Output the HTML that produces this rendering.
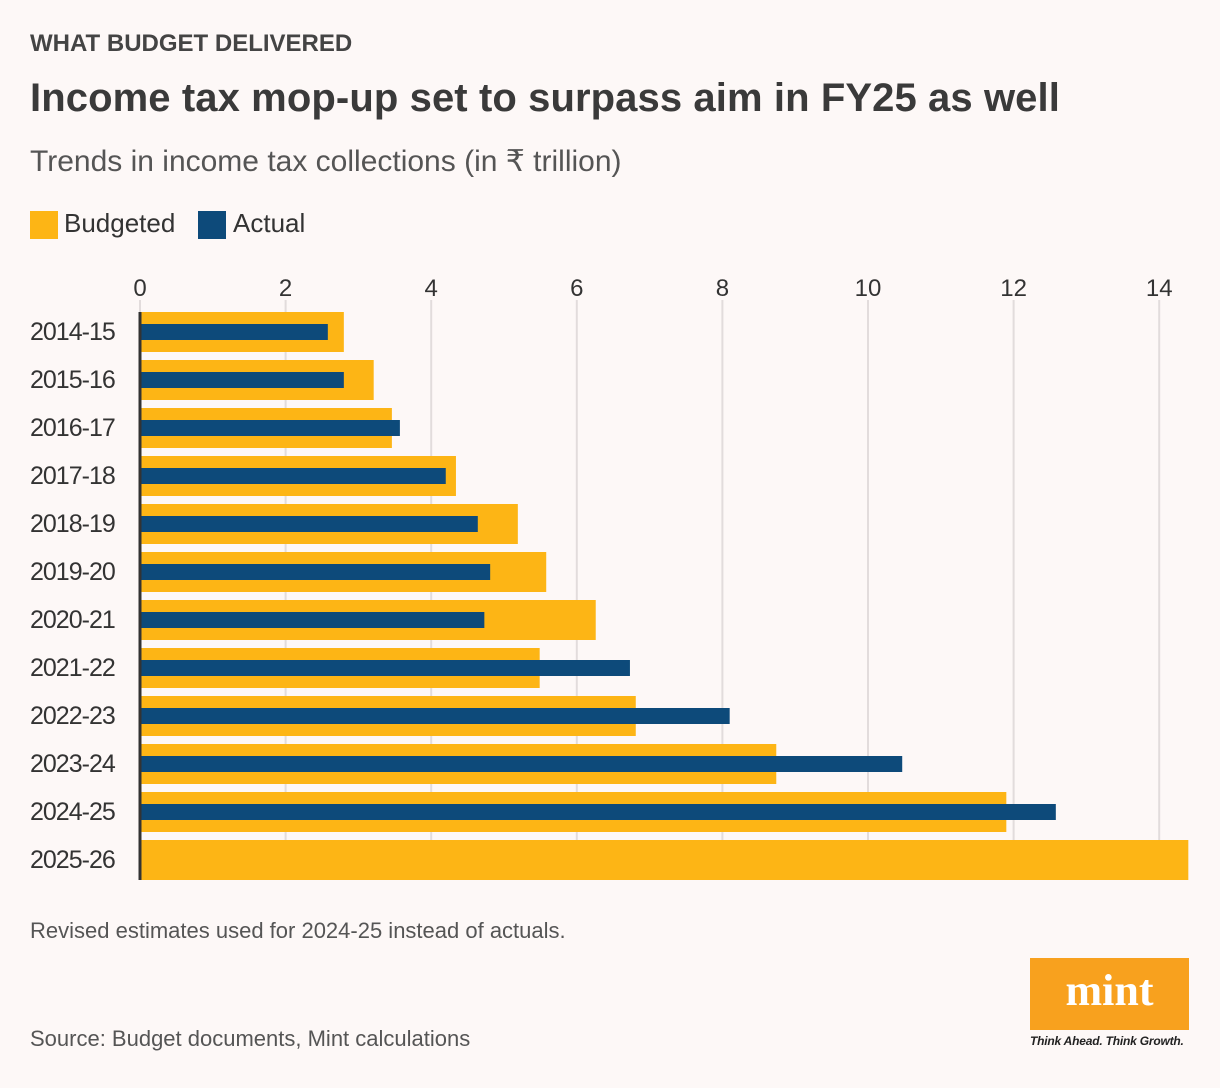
<!DOCTYPE html>
<html><head><meta charset="utf-8"><style>
body{margin:0;width:1220px;height:1088px;background:#fdf8f7;font-family:"Liberation Sans",sans-serif;position:relative;overflow:hidden;color:#333}
.t{position:absolute;white-space:nowrap}
</style></head><body>
<div class="t" style="left:30px;top:30px;font-size:24px;font-weight:bold;color:#444">WHAT BUDGET DELIVERED</div>
<div class="t" style="left:30px;top:76px;font-size:40px;font-weight:bold;color:#3a3a3a;letter-spacing:0.1px">Income tax mop-up set to surpass aim in FY25 as well</div>
<div class="t" style="left:30px;top:144px;font-size:30px;color:#555">Trends in income tax collections (in ₹ trillion)</div>
<div>
<div style="position:absolute;left:30px;top:211px;width:28px;height:28px;background:#fdb515"></div>
<div class="t" style="left:64px;top:208px;font-size:26px">Budgeted</div>
<div style="position:absolute;left:198px;top:211px;width:28px;height:28px;background:#0d4a7a"></div>
<div class="t" style="left:233px;top:208px;font-size:26px">Actual</div>
</div>
<svg id="chart" width="1220" height="1088" style="position:absolute;left:0;top:0"></svg>
<div class="t" style="left:30px;top:918px;font-size:22px;color:#555">Revised estimates used for 2024-25 instead of actuals.</div>
<div class="t" style="left:30px;top:1026px;font-size:22px;color:#555">Source: Budget documents, Mint calculations</div>
<div style="position:absolute;left:1030px;top:958px;width:159px;height:72px;background:#f8a11e;color:#fff;font-family:'Liberation Serif',serif;font-weight:bold;font-size:44px;text-align:center;line-height:66px">mint</div>
<div class="t" style="left:1030px;top:1034px;font-size:12px;font-style:italic;font-weight:bold;color:#222;letter-spacing:-0.2px">Think Ahead. Think Growth.</div>
<script>
const categories=["2014-15","2015-16","2016-17","2017-18","2018-19","2019-20","2020-21","2021-22","2022-23","2023-24","2024-25","2025-26"];
const budgeted=[2.80,3.21,3.46,4.34,5.19,5.58,6.26,5.49,6.81,8.74,11.90,14.40];
const actual=[2.58,2.80,3.57,4.20,4.64,4.81,4.73,6.73,8.10,10.47,12.58,null];
const ticks=[0,2,4,6,8,10,12,14];
const NS="http://www.w3.org/2000/svg",svg=document.getElementById('chart');
const x=v=>140+v*72.8, y=i=>312+i*48;
function mk(t,a){const e=document.createElementNS(NS,t);for(const k in a)e.setAttribute(k,a[k]);svg.appendChild(e);return e;}
ticks.forEach(t=>{
 const g=mk('line',{x1:x(t),x2:x(t),y1:300,y2:880,stroke:'#e2dcdc','stroke-width':2});
 
 
 const l=mk('text',{x:x(t),y:296,'text-anchor':'middle','font-size':24,fill:'#333','font-family':'Liberation Sans, sans-serif'});
 l.textContent=t;
 
 
});
categories.forEach((c,i)=>{
 const l=mk('text',{x:30,y:y(i)+28,'font-size':25,fill:'#333','font-family':'Liberation Sans, sans-serif','letter-spacing':'-1'});
 l.textContent=c;
 
 
 const b=mk('rect',{x:x(0),y:y(i),width:x(budgeted[i])-x(0),height:40,fill:'#fdb515'});
 
 
 if(actual[i]!=null){
  const a=mk('rect',{x:x(0),y:y(i)+12,width:x(actual[i])-x(0),height:16,fill:'#0d4a7a'});
  
  
 }
});
const ax=mk('line',{x1:140,x2:140,y1:312,y2:880,stroke:'#333','stroke-width':3});


</script>
</body></html>
